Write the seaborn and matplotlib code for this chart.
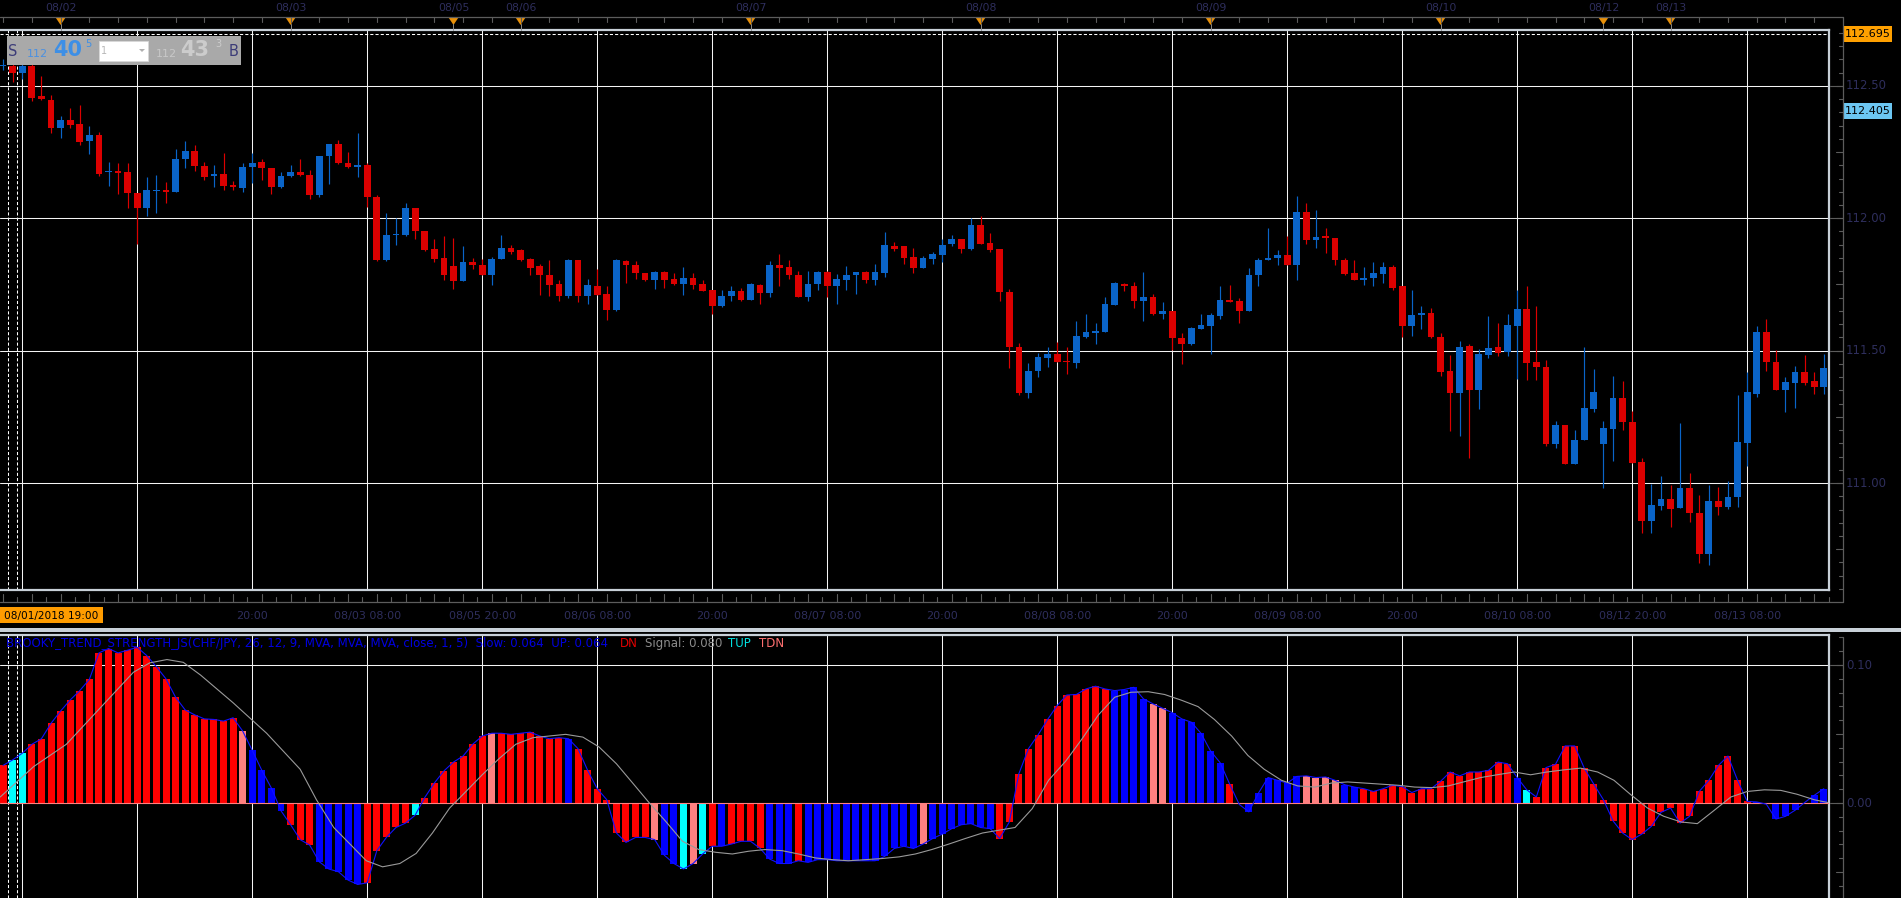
import numpy as np
import pandas as pd
import matplotlib
matplotlib.use("Agg")
import matplotlib.pyplot as plt
import matplotlib.transforms as mtransforms
from matplotlib.patches import Rectangle, Polygon
import seaborn as sns

# ---------------- data (hourly CHF/JPY candles, bar index 0..190) ----------------
opens = [
 112.575, 112.575, 112.548, 112.575, 112.462, 112.448, 112.339, 112.370, 112.356, 112.293,
 112.316, 112.175, 112.178, 112.174, 112.096, 112.040, 112.103, 112.107, 112.100, 112.224,
 112.253, 112.199, 112.161, 112.167, 112.124, 112.115, 112.195, 112.213, 112.190, 112.117,
 112.161, 112.174, 112.165, 112.088, 112.234, 112.280, 112.209, 112.194, 112.203, 112.080,
 111.843, 111.935, 111.937, 112.038, 111.952, 111.883, 111.849, 111.820, 111.764, 111.835,
 111.824, 111.785, 111.847, 111.887, 111.879, 111.847, 111.818, 111.785, 111.751, 111.705,
 111.841, 111.707, 111.745, 111.713, 111.655, 111.839, 111.824, 111.795, 111.766, 111.797,
 111.770, 111.753, 111.776, 111.753, 111.728, 111.669, 111.707, 111.724, 111.692, 111.749,
 111.718, 111.822, 111.816, 111.785, 111.701, 111.753, 111.797, 111.745, 111.766, 111.785,
 111.797, 111.766, 111.793, 111.894, 111.895, 111.854, 111.812, 111.847, 111.860, 111.902,
 111.921, 111.885, 111.975, 111.906, 111.883, 111.722, 111.513, 111.339, 111.423, 111.471,
 111.487, 111.462, 111.454, 111.552, 111.567, 111.571, 111.672, 111.753, 111.745, 111.686,
 111.703, 111.640, 111.649, 111.546, 111.525, 111.582, 111.592, 111.630, 111.692, 111.686,
 111.649, 111.785, 111.841, 111.849, 111.862, 111.822, 112.023, 111.918, 111.933, 111.925,
 111.843, 111.793, 111.766, 111.776, 111.791, 111.816, 111.743, 111.592, 111.634, 111.642,
 111.550, 111.423, 111.341, 111.517, 111.351, 111.483, 111.513, 111.494, 111.592, 111.657,
 111.456, 111.439, 111.146, 111.218, 111.073, 111.161, 111.278, 111.149, 111.205, 111.320,
 111.232, 111.079, 110.858, 110.912, 110.941, 110.904, 110.983, 110.887, 110.732, 110.931,
 110.908, 110.948, 111.151, 111.337, 111.569, 111.458, 111.351, 111.377, 111.418, 111.387,
 111.362]
highs = [
 112.600, 112.600, 112.600, 112.600, 112.538, 112.464, 112.387, 112.418, 112.429, 112.349,
 112.324, 112.213, 112.209, 112.209, 112.096, 112.157, 112.163, 112.136, 112.262, 112.293,
 112.278, 112.213, 112.203, 112.247, 112.142, 112.209, 112.247, 112.224, 112.190, 112.174,
 112.203, 112.224, 112.182, 112.236, 112.282, 112.297, 112.251, 112.322, 112.207, 112.088,
 112.021, 112.000, 112.059, 112.040, 111.952, 111.921, 111.933, 111.925, 111.895, 111.849,
 111.845, 111.853, 111.937, 111.900, 111.883, 111.849, 111.828, 111.841, 111.766, 111.847,
 111.841, 111.770, 111.808, 111.745, 111.845, 111.843, 111.839, 111.795, 111.801, 111.801,
 111.795, 111.816, 111.793, 111.766, 111.728, 111.728, 111.745, 111.738, 111.755, 111.751,
 111.837, 111.864, 111.843, 111.801, 111.801, 111.801, 111.801, 111.791, 111.820, 111.797,
 111.801, 111.826, 111.948, 111.911, 111.895, 111.889, 111.858, 111.874, 111.921, 111.937,
 111.921, 112.000, 112.010, 111.946, 111.883, 111.734, 111.529, 111.452, 111.492, 111.513,
 111.533, 111.513, 111.611, 111.638, 111.603, 111.701, 111.759, 111.755, 111.759, 111.797,
 111.713, 111.682, 111.649, 111.565, 111.590, 111.638, 111.642, 111.745, 111.747, 111.697,
 111.812, 111.849, 111.962, 111.881, 111.933, 112.084, 112.059, 112.031, 111.962, 111.927,
 111.849, 111.843, 111.816, 111.833, 111.833, 111.822, 111.743, 111.728, 111.669, 111.661,
 111.567, 111.483, 111.536, 111.525, 111.508, 111.630, 111.605, 111.638, 111.728, 111.745,
 111.669, 111.464, 111.236, 111.218, 111.199, 111.513, 111.431, 111.236, 111.404, 111.387,
 111.272, 111.094, 110.996, 111.025, 110.992, 111.226, 111.038, 110.954, 110.992, 110.985,
 111.006, 111.331, 111.418, 111.592, 111.619, 111.502, 111.400, 111.441, 111.483, 111.418,
 111.487]
lows = [
 112.560, 112.513, 112.527, 112.444, 112.446, 112.322, 112.303, 112.339, 112.276, 112.241,
 112.160, 112.121, 112.090, 112.038, 111.904, 112.010, 112.021, 112.059, 112.100, 112.188,
 112.178, 112.146, 112.119, 112.105, 112.105, 112.100, 112.134, 112.146, 112.090, 112.113,
 112.157, 112.159, 112.073, 112.079, 112.130, 112.205, 112.190, 112.155, 112.042, 111.837,
 111.837, 111.900, 111.933, 111.920, 111.877, 111.833, 111.768, 111.734, 111.764, 111.808,
 111.785, 111.747, 111.845, 111.866, 111.837, 111.787, 111.710, 111.707, 111.686, 111.699,
 111.682, 111.678, 111.711, 111.617, 111.651, 111.757, 111.770, 111.762, 111.734, 111.738,
 111.749, 111.711, 111.734, 111.726, 111.640, 111.665, 111.686, 111.686, 111.690, 111.676,
 111.703, 111.743, 111.772, 111.701, 111.686, 111.728, 111.703, 111.676, 111.728, 111.713,
 111.757, 111.749, 111.780, 111.875, 111.826, 111.795, 111.812, 111.828, 111.833, 111.895,
 111.868, 111.881, 111.902, 111.874, 111.686, 111.435, 111.331, 111.322, 111.400, 111.439,
 111.456, 111.410, 111.435, 111.546, 111.525, 111.571, 111.672, 111.724, 111.661, 111.613,
 111.634, 111.619, 111.502, 111.450, 111.523, 111.582, 111.487, 111.619, 111.684, 111.603,
 111.649, 111.743, 111.841, 111.824, 111.822, 111.766, 111.902, 111.889, 111.868, 111.822,
 111.785, 111.766, 111.747, 111.745, 111.757, 111.728, 111.550, 111.556, 111.580, 111.546,
 111.404, 111.195, 111.178, 111.096, 111.278, 111.473, 111.481, 111.481, 111.393, 111.389,
 111.389, 111.138, 111.132, 111.073, 111.073, 111.161, 111.268, 110.983, 111.084, 111.199,
 111.077, 110.812, 110.812, 110.900, 110.835, 110.904, 110.854, 110.699, 110.692, 110.879,
 110.902, 110.908, 111.065, 111.326, 111.425, 111.351, 111.268, 111.282, 111.372, 111.335,
 111.335]
closes = [
 112.580, 112.548, 112.575, 112.456, 112.450, 112.339, 112.370, 112.354, 112.289, 112.314,
 112.167, 112.180, 112.172, 112.094, 112.040, 112.105, 112.106, 112.098, 112.224, 112.253,
 112.197, 112.157, 112.169, 112.121, 112.117, 112.195, 112.209, 112.188, 112.119, 112.161,
 112.174, 112.163, 112.088, 112.234, 112.280, 112.207, 112.192, 112.200, 112.082, 111.843,
 111.937, 111.941, 112.038, 111.950, 111.881, 111.845, 111.785, 111.764, 111.835, 111.822,
 111.785, 111.847, 111.887, 111.872, 111.843, 111.812, 111.785, 111.747, 111.707, 111.841,
 111.707, 111.747, 111.711, 111.655, 111.841, 111.822, 111.795, 111.766, 111.797, 111.766,
 111.753, 111.776, 111.747, 111.726, 111.669, 111.707, 111.726, 111.692, 111.751, 111.718,
 111.822, 111.814, 111.785, 111.701, 111.753, 111.797, 111.745, 111.770, 111.785, 111.797,
 111.766, 111.797, 111.900, 111.882, 111.851, 111.812, 111.849, 111.864, 111.900, 111.921,
 111.885, 111.975, 111.902, 111.881, 111.720, 111.513, 111.339, 111.423, 111.475, 111.487,
 111.458, 111.456, 111.554, 111.571, 111.575, 111.676, 111.755, 111.745, 111.686, 111.703,
 111.640, 111.649, 111.546, 111.525, 111.586, 111.596, 111.634, 111.692, 111.684, 111.649,
 111.785, 111.843, 111.849, 111.862, 111.822, 112.023, 111.916, 111.931, 111.925, 111.841,
 111.791, 111.766, 111.776, 111.793, 111.816, 111.736, 111.592, 111.634, 111.642, 111.550,
 111.420, 111.341, 111.515, 111.351, 111.487, 111.510, 111.492, 111.596, 111.657, 111.454,
 111.439, 111.146, 111.218, 111.073, 111.161, 111.282, 111.343, 111.207, 111.320, 111.232,
 111.077, 110.856, 110.916, 110.941, 110.902, 110.983, 110.885, 110.732, 110.931, 110.910,
 110.948, 111.155, 111.343, 111.569, 111.456, 111.351, 111.381, 111.418, 111.379, 111.362,
 111.433]

# indicator histogram (BROOKY_TREND_STRENGTH) and its colour state
hist_vals = [
 .0273, .0313, .0361, .0426, .0466, .0578, .0667, .0747, .0815, .0896,
 .1088, .1120, .1088, .1108, .1129, .1068, .0988, .0900, .0767, .0675,
 .0639, .0610, .0606, .0594, .0618, .0522, .0382, .0237, .0108, -.0056,
 -.0157, -.0265, -.0305, -.0426, -.0478, -.0498, -.0558, -.0590, -.0578, -.0345,
 -.0249, -.0177, -.0145, -.0088, .0040, .0145, .0233, .0297, .0341, .0426,
 .0486, .0506, .0506, .0498, .0506, .0514, .0486, .0466, .0474, .0466,
 .0394, .0237, .0104, .0024, -.0217, -.0285, -.0249, -.0249, -.0265, -.0378,
 -.0438, -.0478, -.0438, -.0369, -.0313, -.0313, -.0297, -.0277, -.0277, -.0329,
 -.0406, -.0438, -.0438, -.0418, -.0430, -.0410, -.0410, -.0418, -.0418, -.0418,
 -.0418, -.0418, -.0386, -.0329, -.0313, -.0329, -.0297, -.0257, -.0225, -.0185,
 -.0157, -.0149, -.0177, -.0185, -.0257, -.0137, .0213, .0394, .0494, .0606,
 .0707, .0783, .0787, .0827, .0847, .0827, .0815, .0823, .0839, .0755,
 .0719, .0687, .0655, .0610, .0586, .0506, .0378, .0293, .0137, -.0010,
 -.0064, .0072, .0185, .0165, .0145, .0193, .0197, .0185, .0189, .0165,
 .0133, .0116, .0104, .0084, .0104, .0129, .0120, .0076, .0104, .0104,
 .0157, .0225, .0197, .0225, .0225, .0237, .0297, .0285, .0185, .0096,
 .0044, .0257, .0281, .0414, .0414, .0253, .0137, .0024, -.0129, -.0217,
 -.0265, -.0225, -.0169, -.0068, -.0036, -.0145, -.0096, .0084, .0165, .0273,
 .0341, .0165, .0012, .0008, -.0008, -.0116, -.0096, -.0052, .0004, .0056,
 .0104]
hist_state = list(
 "RCCRRRRRRR" "RRRRRRRRRR" "RRRRRSBBBB" "RRRBBBBBRR" "RRRCRRRRRR"
 "RSRRRRRRRB" "RRRRRRRRSB" "BCSCRBRRRR" "BBBRBBBBBB" "BBBBBBSBBB"
 "BBBBRRRRRR" "RRRRRRBBBB" "SSBBBBBBRR" "BBBBBBSSSS" "BBRRRRRRRR"
 "RRRRRRRRBC" "RRRRRRRRRR" "RRRRRRRRRR" "RRRBBBBBSB" "B")

# signal line readings (bar position, value)
sig_pos = [
 -0.3, 3.2, 6.6, 10.1, 13.6, 15.3, 17.1, 18.8, 20.6, 24.0, 27.5, 31.0, 32.7, 34.5, 36.2, 37.9,
 39.6, 41.4, 43.1, 44.8, 46.6, 48.3, 50.0, 51.8, 53.5, 55.3, 57.0, 58.7, 60.5, 62.2, 64.0, 65.7,
 67.4, 69.2, 70.9, 72.6, 74.4, 76.1,
 77.8, 79.5, 81.3, 83.0, 84.8, 86.5, 88.2, 90.0, 91.7, 93.5, 95.2, 96.9, 98.7, 100.4, 102.2,
 103.9, 105.6, 107.4, 109.1, 110.9, 112.6, 114.3,
 116.0, 117.7, 119.5, 121.2, 122.9, 124.7, 126.4, 128.2, 129.9, 131.6, 133.4, 135.1, 136.9,
 138.6, 140.3, 142.1, 143.8, 145.6, 147.3, 149.1, 150.8, 152.5,
 154.2, 155.9, 157.7, 159.4, 161.1, 162.9, 164.6, 166.4, 168.1, 169.8, 171.6, 173.3, 175.1,
 176.8, 178.5, 180.3, 182.0, 183.8, 185.5, 187.2, 189.0, 190.4]
sig_vals = [
 .0044, .0265, .0426, .0687, .0948, .1016, .1040, .1020, .0928, .0727, .0506, .0245, .0024, -.0177, -.0297, -.0418,
 -.0462, -.0438, -.0365, -.0217, -.0036, .0084, .0205, .0325, .0426, .0474, .0486, .0498, .0478, .0406, .0285, .0145,
 .0004, -.0137, -.0277, -.0337, -.0357, -.0369,
 -.0349, -.0337, -.0345, -.0369, -.0398, -.0410, -.0418, -.0410, -.0402, -.0390, -.0369, -.0337, -.0297, -.0257, -.0217,
 -.0197, -.0177, -.0040, .0165, .0305, .0466, .0639,
 .0767, .0803, .0807, .0787, .0747, .0699, .0606, .0486, .0345, .0245, .0165, .0124, .0116,
 .0145, .0153, .0145, .0137, .0129, .0116, .0112, .0124, .0155,
 .0185, .0205, .0225, .0205, .0225, .0241, .0253, .0225, .0165, .0064, -.0036, -.0096, -.0137,
 -.0149, -.0056, .0044, .0084, .0096, .0092, .0064, .0024, .0004]

grid_bars = [2, 14, 26, 38, 50, 62, 74, 86, 98, 110, 122, 134, 146, 158, 170, 182]
grid_labels = ["", "", "20:00", "08/03 08:00", "08/05 20:00", "08/06 08:00", "20:00",
               "08/07 08:00", "20:00", "08/08 08:00", "20:00", "08/09 08:00", "20:00",
               "08/10 08:00", "08/12 20:00", "08/13 08:00"]
day_bars = [6, 30, 47, 54, 78, 102, 126, 150, 167, 174]
day_labels = ["08/02", "08/03", "08/05", "08/06", "08/07", "08/08", "08/09", "08/10", "08/12", "08/13"]
price_levels = [112.50, 112.00, 111.50, 111.00]
price_texts = ["112.50", "112.00", "111.50", "111.00"]
ind_levels = [0.10, 0.00]
ind_texts = ["0.10", "0.00"]
high_marker = 112.695
bid_marker = 112.405
cursor_lines = [0.54, 1.48]

# ---------------- styling ----------------
sns.set_theme(style="dark")
plt.rcParams['font.family'] = ['DejaVu Sans']
plt.rcParams['axes.facecolor'] = 'black'
plt.rcParams['figure.facecolor'] = 'black'

W, H = 1901, 898
fig = plt.figure(figsize=(W / 100, H / 100), dpi=100, facecolor='black')

def add_ax(x0, y0, x1, y1):
    return fig.add_axes([x0 / W, 1 - y1 / H, (x1 - x0) / W, (y1 - y0) / H])

axm = add_ax(0, 30, 1829, 590)
axi = add_ax(0, 635, 1829, 898)
ov = fig.add_axes([0, 0, 1, 1])
ov.set_xlim(0, W); ov.set_ylim(H, 0); ov.axis('off')

XL = (-0.3235, 190.54)
BORDER = '#c8d0d8'
GRID = '#f4f4f4'
GLW = 0.75
LBL = '#2e2e5c'
AXL = '#5c5c5c'

for a in (axm, axi):
    a.set_facecolor('black')
    a.set_xlim(*XL)
    a.spines['left'].set_visible(False)
    for s in ('top', 'right', 'bottom'):
        a.spines[s].set_color(BORDER)
        a.spines[s].set_linewidth(1.6)
    for g in grid_bars:
        a.axvline(g, color=GRID, lw=GLW, zorder=1)
    for c in cursor_lines:
        a.axvline(c, color='white', lw=GLW, ls=(0, (3, 2)), zorder=1)
axi.spines['bottom'].set_visible(False)

# ---------------- main candle panel ----------------
axm.set_ylim(110.596, 112.711)
for p in price_levels:
    axm.axhline(p, color=GRID, lw=GLW, zorder=1)
axm.axhline(high_marker, color='white', lw=GLW, ls=(0, (3, 2)), zorder=1)

df = pd.DataFrame({"i": np.arange(len(opens)), "o": opens, "h": highs, "l": lows, "c": closes})
df["up"] = df["c"] >= df["o"]
ccol = np.where(df["up"], '#0a64c8', '#dc0000')
body_lo = np.minimum(df["o"], df["c"])
body_h = np.maximum(np.abs(df["c"] - df["o"]), 0.005)
axm.vlines(df["i"], df["l"], df["h"], colors=ccol, lw=0.85, zorder=3)
axm.bar(df["i"], body_h, bottom=body_lo, width=0.7, color=ccol, linewidth=0, zorder=4)

# ---------------- indicator panel ----------------
axi.set_ylim(-0.0688, 0.1218)
axi.axhline(0.10, color=GRID, lw=GLW, zorder=1)
pal = {"R": '#ff0000', "B": '#0000ff', "C": '#00ffff', "S": '#ff8080'}
dfi = pd.DataFrame({"i": np.arange(len(hist_vals)), "v": hist_vals, "state": hist_state})
sns.barplot(data=dfi, x="i", y="v", hue="state", palette=pal, native_scale=True,
            dodge=False, width=0.73, saturation=1, errorbar=None, legend=False,
            linewidth=0, ax=axi, zorder=3)
axi.axhline(0.0, color='#ff8080', lw=0.8, zorder=4)
sns.lineplot(x=dfi["i"], y=dfi["v"], color='#1010ff', lw=0.8, ax=axi, zorder=5)
sns.lineplot(x=sig_pos, y=sig_vals, color='#9a9a9a', lw=0.8, ax=axi, zorder=5)
axi.set_xlim(*XL)
axi.set_ylim(-0.0688, 0.1218)

for a in (axm, axi):
    a.set_xticks([]); a.set_yticks([])
    a.set_xlabel(''); a.set_ylabel('')

# ---------------- frame decorations ----------------
bx = mtransforms.blended_transform_factory(axm.transData, ov.transData)   # x: bar, y: px
by_m = mtransforms.blended_transform_factory(ov.transData, axm.transData)  # x: px, y: price
by_i = mtransforms.blended_transform_factory(ov.transData, axi.transData)

# top date axis
ov.plot([0, 1843], [17, 17], color=AXL, lw=0.9)
for t in np.arange(0, 191, 3):
    ov.plot([t, t], [17, 22], color=AXL, lw=0.8, transform=bx)
for b, s in zip(day_bars, day_labels):
    ov.text(b, 8.5, s, transform=bx, ha='center', va='center', color=LBL, fontsize=7.8)
    cx = axm.transData.transform((b, 0))[0]
    ov.plot([cx, cx], [24, 30], color='#8a8a8a', lw=0.7)
    ov.add_patch(Polygon([(cx - 5, 17.5), (cx + 5, 17.5), (cx, 25)], closed=True,
                         facecolor='#e8900a', edgecolor='none'))

# bottom time axis
ov.plot([0, 1843], [602, 602], color=AXL, lw=0.9)
for k, t in enumerate(np.arange(0, 191, 1.5)):
    ov.plot([t, t], [594 if k % 2 == 0 else 597, 602], color=AXL, lw=0.8, transform=bx)
for b, s in zip(grid_bars, grid_labels):
    if s:
        ov.text(b, 616, s, transform=bx, ha='center', va='center', color=LBL, fontsize=8)

# separator band
ov.add_patch(Rectangle((0, 627.5), W, 4.5, facecolor='#c8d0d8', edgecolor='none'))

# right axes
ov.plot([1843, 1843], [17, 602], color=AXL, lw=0.9)
ov.plot([1843, 1843], [637, 898], color=AXL, lw=0.9)
for p in np.arange(110.60, 112.71, 0.05):
    major = abs((p * 4) - round(p * 4)) < 1e-6
    ov.plot([1836 if major else 1839, 1843], [p, p], color=AXL, lw=0.8, transform=by_m)
for p, s in zip(price_levels, price_texts):
    ov.plot([1830, 1843], [p, p], color=AXL, lw=0.8, transform=by_m)
    ov.text(1846, p, s, transform=by_m, va='center', ha='left', color=LBL, fontsize=8.5)
for v in np.arange(-0.06, 0.125, 0.01):
    major = abs(v * 20 - round(v * 20)) < 1e-6
    ov.plot([1836 if major else 1839, 1843], [v, v], color=AXL, lw=0.8, transform=by_i)
for v, s in zip(ind_levels, ind_texts):
    ov.plot([1830, 1843], [v, v], color=AXL, lw=0.8, transform=by_i)
    ov.text(1846, v, s, transform=by_i, va='center', ha='left', color=LBL, fontsize=8.5)

# price marker boxes
ov.add_patch(Rectangle((1844, 26), 48, 15.5, facecolor='#ffa000', edgecolor='none'))
ov.text(1868, high_marker, f"{high_marker:.3f}", transform=by_m, ha='center', va='center',
        color='black', fontsize=8)
ov.add_patch(Rectangle((1844, 103), 48, 16, facecolor='#6cc6f2', edgecolor='none'))
ov.text(1868, bid_marker, f"{bid_marker:.3f}", transform=by_m, ha='center', va='center',
        color='black', fontsize=8)

# cursor time box
ov.add_patch(Rectangle((0, 607), 103, 16, facecolor='#ff9c00', edgecolor='none'))
ov.text(51, 615.5, "08/01/2018 19:00", ha='center', va='center', color='black', fontsize=7.6)

# sell/buy box
ov.add_patch(Rectangle((7, 36), 234, 29, facecolor='#a9a9a9', edgecolor='none'))
ov.text(13, 52, "S", ha='center', va='center', color='#3c3c78', fontsize=10.5)
ov.text(37, 54, "112", ha='center', va='center', color='#4a90e2', fontsize=8)
ov.text(68, 50.5, "40", ha='center', va='center', color='#3d8fe6', fontsize=15, fontweight='bold')
ov.text(88, 44, "5", ha='center', va='center', color='#3d8fe6', fontsize=7)
ov.add_patch(Rectangle((99, 41), 49, 20, facecolor='white', edgecolor='#d8d8d8', lw=0.6))
ov.text(101, 51, "1", ha='left', va='center', color='#b8b8b8', fontsize=7)
ov.add_patch(Polygon([(139, 49), (145, 49), (142, 52)], closed=True, facecolor='#b0b0b0', edgecolor='none'))
ov.text(166, 54, "112", ha='center', va='center', color='#c8c8c8', fontsize=8)
ov.text(195, 50.5, "43", ha='center', va='center', color='#cccccc', fontsize=15, fontweight='bold')
ov.text(218, 44, "3", ha='center', va='center', color='#cccccc', fontsize=7)
ov.text(234, 52, "B", ha='center', va='center', color='#3c3c78', fontsize=10.5)

# indicator title
renderer = fig.canvas.get_renderer()
title_main = "BROOKY_TREND_STRENGTH_JS(CHF/JPY, 26, 12, 9, MVA, MVA, MVA, close, 1, 5)  Slow: 0.064  UP: 0.064"
t0 = ov.text(6, 643.5, title_main, ha='left', va='center', color='#0000e0', fontsize=8)
w0 = t0.get_window_extent(renderer=renderer).width
fs = 8 * 605 / w0
t0.set_fontsize(fs)
for x, s, c in [(620, "DN", '#e00000'), (645, "Signal: 0.080", '#8c8c8c'),
                (728, "TUP", '#00e0e0'), (759, "TDN", '#ff7070')]:
    ov.text(x, 643.5, s, ha='left', va='center', color=c, fontsize=fs)

fig.savefig("out.png", dpi=100, facecolor='black')
